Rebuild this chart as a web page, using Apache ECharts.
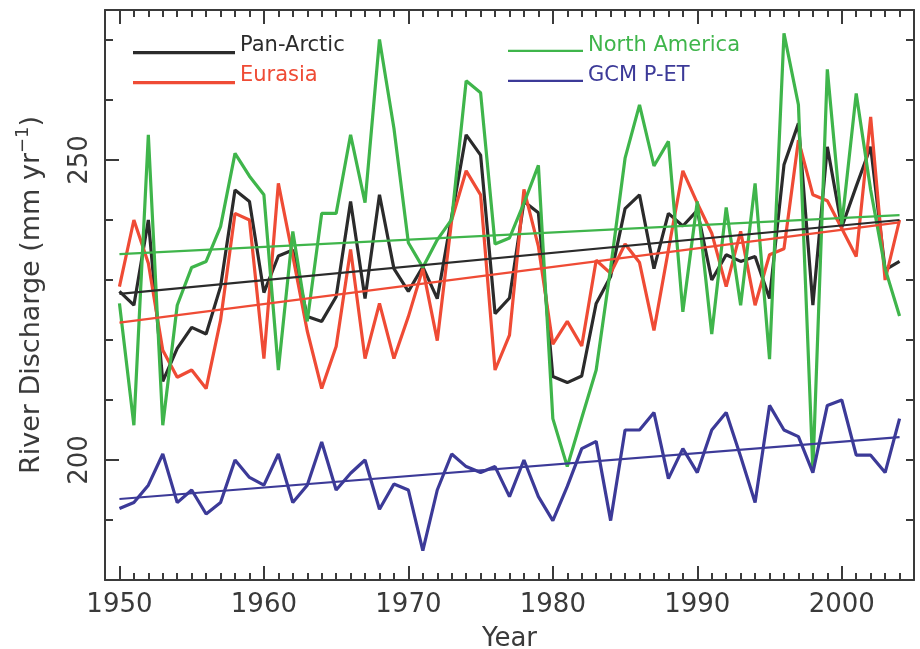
<!DOCTYPE html>
<html>
<head>
<meta charset="utf-8">
<script src="https://cdn.jsdelivr.net/npm/echarts@6/dist/echarts.min.js"></script>
<style>
  html, body { margin: 0; padding: 0; background: #fff; }
  #chart { width: 920px; height: 649px; }
</style>
</head>
<body>
<div id="chart"></div>
<script>
// years on the x axis
const years = [1950, 1951, 1952, 1953, 1954, 1955, 1956, 1957, 1958, 1959,
  1960, 1961, 1962, 1963, 1964, 1965, 1966, 1967, 1968, 1969,
  1970, 1971, 1972, 1973, 1974, 1975, 1976, 1977, 1978, 1979,
  1980, 1981, 1982, 1983, 1984, 1985, 1986, 1987, 1988, 1989,
  1990, 1991, 1992, 1993, 1994, 1995, 1996, 1997, 1998, 1999,
  2000, 2001, 2002, 2003, 2004]

// river discharge, mm/yr
const panArctic = [228.1, 225.8, 240.0, 213.1, 218.6, 222.1, 221.0, 228.9, 245.0, 243.1,
  227.9, 234.0, 235.0, 223.9, 223.1, 227.2, 243.1, 226.9, 244.2, 231.9,
  228.1, 232.2, 226.9, 240.6, 254.2, 250.8, 224.4, 227.0, 243.1, 241.2,
  213.9, 212.9, 214.0, 226.1, 230.6, 241.9, 244.2, 231.9, 241.1, 239.0,
  241.6, 230.0, 234.2, 233.1, 233.9, 226.9, 249.2, 256.1, 225.8, 252.2,
  238.8, 245.6, 252.2, 231.7, 233.1]
const eurasia = [228.9, 240.0, 232.8, 218.3, 213.8, 215.0, 211.9, 223.3, 241.1, 240.0,
  216.9, 246.1, 234.0, 221.5, 211.9, 218.9, 235.1, 216.9, 226.1, 216.9,
  223.9, 231.9, 219.9, 240.0, 248.2, 244.2, 215.0, 220.8, 245.1, 235.6,
  219.3, 223.1, 219.0, 233.3, 231.1, 236.0, 232.9, 221.6, 235.0, 248.2,
  242.8, 237.8, 228.9, 238.1, 225.8, 234.2, 235.2, 253.3, 244.2, 243.2,
  238.6, 233.9, 257.2, 230.0, 240.0]
const northAmerica = [226.1, 205.8, 254.2, 205.8, 225.8, 232.1, 233.1, 238.9, 251.1, 247.3,
  244.2, 215.0, 238.1, 223.1, 241.1, 241.1, 254.2, 242.9, 270.1, 255.3,
  236.2, 232.1, 236.7, 240.1, 263.2, 261.2, 236.0, 237.0, 242.8, 249.1,
  206.9, 198.9, 207.0, 215.0, 232.0, 250.3, 259.2, 249.0, 253.1, 224.7,
  243.1, 221.0, 242.1, 225.8, 246.1, 216.8, 271.1, 259.2, 198.3, 265.1,
  239.2, 261.1, 245.0, 231.9, 224.0]
const gcmPet = [191.9, 192.9, 195.8, 201.0, 192.9, 195.0, 191.0, 192.9, 200.0, 197.1,
  195.8, 201.0, 192.9, 195.8, 203.0, 195.0, 197.8, 200.0, 191.8, 196.0,
  195.0, 184.9, 195.0, 201.0, 198.9, 197.9, 198.9, 193.9, 200.0, 193.9,
  189.9, 195.6, 201.9, 203.1, 189.9, 205.0, 205.0, 207.9, 196.9, 201.9,
  197.9, 205.0, 207.9, 200.6, 192.9, 209.1, 205.0, 203.9, 197.9, 209.1,
  210.0, 200.8, 200.8, 197.9, 206.9]

const trendYears = [1950, 2004]
const panArcticTrend = [227.7, 240.0]
const eurasiaTrend = [222.9, 239.6]
const northAmericaTrend = [234.3, 240.8]
const gcmPetTrend = [193.5, 203.8]

// tick labels
const yearLabels = [1950, 1960, 1970, 1980, 1990, 2000]
const yMajor = [200, 250]
const yMinor = [190, 210, 220, 230, 240, 260, 270]
const yAll = [190, 200, 210, 220, 230, 240, 250, 260, 270]

const colors = {
  'Pan-Arctic': '#2b2b2b',
  'Eurasia': '#ef4b35',
  'North America': '#3fb54b',
  'GCM P-ET': '#3c3a98',
}
const font = 'DejaVu Sans'
const axisColor = '#3a3a3a'
// legend swatch: a line sitting a little below the text middle (tiny dot at top keeps the box)
const legendIcon = 'path://M0,0 L0.1,0 L0,0.1 Z M0,13 L100,13 L100,16 L0,16 Z'

const pairs = (xs, ys) => xs.map((x, i) => [x, ys[i]])

function dataSeries(name, values) {
  return {
    name, type: 'line', data: pairs(years, values),
    symbol: 'none', animation: false,
    lineStyle: {color: colors[name], width: 3.2},
    itemStyle: {color: colors[name]},
  }
}
function trendSeries(name, values) {
  return {
    name: name + ' trend', type: 'line', data: pairs(trendYears, values),
    symbol: 'none', animation: false, silent: true,
    lineStyle: {color: colors[name], width: 2.2},
  }
}

function xAxisBase(position, showLine) {
  return {
    type: 'value', min: 1949, max: 2005, position,
    axisLine: {show: showLine, onZero: false, lineStyle: {color: axisColor, width: 2}},
    splitLine: {show: false},
    axisLabel: {show: false},
  }
}
function yAxisBase(position, showLine) {
  return {
    type: 'value', min: 180, max: 275, position,
    axisLine: {show: showLine, onZero: false, lineStyle: {color: axisColor, width: 2}},
    splitLine: {show: false},
    axisLabel: {show: false},
  }
}

const chart = echarts.init(document.getElementById('chart'))
chart.setOption({
  backgroundColor: '#fff',
  grid: {left: 105, right: 6, top: 10, bottom: 69, containLabel: false, outerBoundsMode: 'none'},
  legend: [{
    left: 133, top: 34, orient: 'vertical', padding: 0,
    icon: legendIcon, itemWidth: 102, itemHeight: 17, itemGap: 6,
    textStyle: {fontFamily: font, fontSize: 21, lineHeight: 24},
    data: ['Pan-Arctic', 'Eurasia'].map(n => ({name: n, textStyle: {color: colors[n]}})),
  }, {
    left: 508, top: 34, orient: 'vertical', padding: 0,
    icon: legendIcon, itemWidth: 75, itemHeight: 17, itemGap: 6,
    textStyle: {fontFamily: font, fontSize: 21, lineHeight: 24},
    data: ['North America', 'GCM P-ET'].map(n => ({name: n, textStyle: {color: colors[n]}})),
  }],
  xAxis: [
    Object.assign(xAxisBase('bottom', true), {
      name: 'Year', nameLocation: 'middle', nameGap: 46,
      nameTextStyle: {fontFamily: font, fontSize: 26, color: axisColor},
      axisTick: {customValues: yearLabels, inside: true, length: 14, lineStyle: {color: axisColor, width: 2}},
      axisLabel: {
        show: true, customValues: yearLabels, margin: 12, fontFamily: font, fontSize: 26, color: axisColor,
        formatter: v => String(v),
      },
    }),
    Object.assign(xAxisBase('bottom', false), {
      axisTick: {customValues: years, inside: true, length: 7, lineStyle: {color: axisColor, width: 2}},
    }),
    Object.assign(xAxisBase('top', true), {
      axisTick: {customValues: yearLabels, inside: true, length: 14, lineStyle: {color: axisColor, width: 2}},
    }),
    Object.assign(xAxisBase('top', false), {
      axisTick: {customValues: years, inside: true, length: 7, lineStyle: {color: axisColor, width: 2}},
    }),
  ],
  yAxis: [
    Object.assign(yAxisBase('left', true), {
      name: '{t|River Discharge (mm yr}{s|\u22121}{t|)}', nameLocation: 'middle', nameGap: 55,
      nameTextStyle: {
        fontFamily: font, color: axisColor,
        rich: {
          t: {fontFamily: font, fontSize: 27, color: axisColor, lineHeight: 36},
          s: {fontFamily: font, fontSize: 18, color: axisColor, verticalAlign: 'top', lineHeight: 18},
        },
      },
      axisTick: {customValues: yMajor, inside: true, length: 14, lineStyle: {color: axisColor, width: 2}},
      axisLabel: {
        show: true, customValues: yMajor, rotate: 90, margin: 12, fontFamily: font, fontSize: 26, color: axisColor,
        formatter: v => String(v),
      },
    }),
    Object.assign(yAxisBase('left', false), {
      axisTick: {customValues: yMinor, inside: true, length: 8, lineStyle: {color: axisColor, width: 2}},
    }),
    Object.assign(yAxisBase('right', true), {
      axisTick: {customValues: yAll, inside: true, length: 8, lineStyle: {color: axisColor, width: 2}},
    }),
  ],
  series: [
    dataSeries('Pan-Arctic', panArctic),
    dataSeries('Eurasia', eurasia),
    dataSeries('North America', northAmerica),
    dataSeries('GCM P-ET', gcmPet),
    trendSeries('Pan-Arctic', panArcticTrend),
    trendSeries('Eurasia', eurasiaTrend),
    trendSeries('North America', northAmericaTrend),
    trendSeries('GCM P-ET', gcmPetTrend),
  ],
})
</script>
</body>
</html>
